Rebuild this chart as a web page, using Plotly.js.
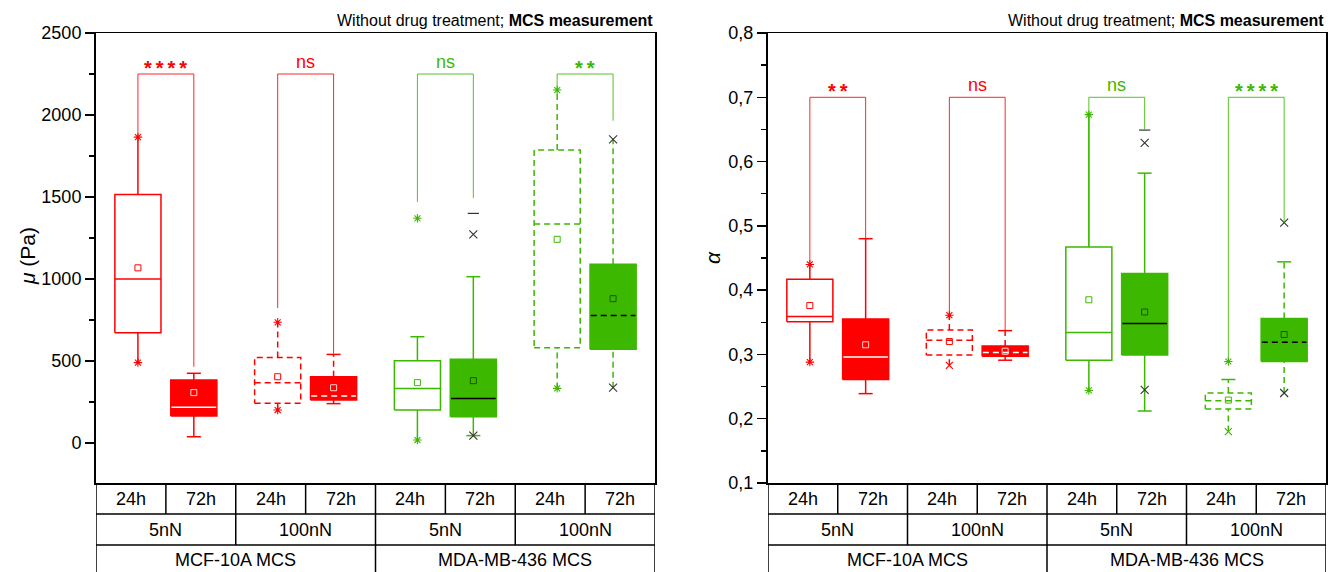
<!DOCTYPE html>
<html><head><meta charset="utf-8">
<script src="https://cdn.plot.ly/plotly-3.0.1.min.js"></script>
<style>body{margin:0;background:#fff}#plot{width:1330px;height:572px}</style>
</head><body><div id="plot"></div>
<script>
// ---------- data ----------
const timeLabels = ['24h','72h','24h','72h','24h','72h','24h','72h'];
const forceLabels = ['5nN','100nN','5nN','100nN'];
const cellLabels = ['MCF-10A MCS','MDA-MB-436 MCS'];

// mu (Pa)
const muQ1     = [672, 165, 242, 262, 201, 160, 581, 571];
const muMedian = [1000, 218, 368, 287, 333, 272, 1335, 778];
const muQ3     = [1515, 384, 522, 404, 502, 510, 1787, 1090];
const muMean   = [1068, 307, 404, 337, 368, 380, 1242, 880];
const muLow    = [490, 38, 201, 240, 18, 45, 333, 337];
const muHigh   = [1865, 425, 736, 540, 648, 1014, 2152, 1852];
const muExtraX = [4, 5, 5, 5];          // box index of extra points
const muExtraY = [1370, 1272, 1400, 45];
const muSigLevel = 2250;
const muSigLeft  = [1865, 823, 1470, 2152];
const muSigRight = [465, 545, 1493, 1965];
const muSigText  = ['****', 'ns', 'ns', '**'];

// alpha
const alQ1     = [0.351, 0.261, 0.299, 0.297, 0.291, 0.299, 0.215, 0.289];
const alMedian = [0.359, 0.296, 0.322, 0.303, 0.334, 0.348, 0.228, 0.319];
const alQ3     = [0.417, 0.355, 0.338, 0.313, 0.467, 0.426, 0.240, 0.356];
const alMean   = [0.376, 0.315, 0.320, 0.305, 0.385, 0.366, 0.229, 0.331];
const alLow    = [0.288, 0.239, 0.283, 0.291, 0.244, 0.212, 0.180, 0.240];
const alHigh   = [0.440, 0.480, 0.361, 0.337, 0.673, 0.582, 0.261, 0.444];
const alExtraX = [5, 5, 5, 6, 7];
const alExtraY = [0.629, 0.649, 0.245, 0.289, 0.505];
const alSigLevel = 0.70;
const alSigLeft  = [0.440, 0.361, 0.467, 0.289];
const alSigRight = [0.480, 0.337, 0.649, 0.505];
const alSigText  = ['**', 'ns', 'ns', '****'];

// ---------- styles ----------
const RED = '#ff0000', GREEN = '#3cb800', DARK = '#333333';
const boxColor = [RED,RED,RED,RED,GREEN,GREEN,GREEN,GREEN];
const boxFilled = [false,true,false,true,false,true,false,true];
const boxDashed = [false,false,true,true,false,false,true,true];
const medColor = ['fill','white','fill','white','fill','black','fill','black'];
const FONT = 'Liberation Sans, Arial, sans-serif';

const muEndHi = ['ast','cap','ast','cap','cap','cap','ast','xd'];
const muEndLo = ['ast','cap','ast','cap','ast','cap','ast','xd'];
const muExtraSym = ['ast','xd','capd','xd'];
const alEndHi = ['ast','cap','ast','cap','ast','cap','cap','cap'];
const alEndLo = ['ast','cap','xs','cap','ast','cap','xs','xd'];
const alExtraSym = ['xd','capd','xd','ast','xd'];

function pos(i){ return i + 0.5 + (i % 2 === 0 ? 0.1 : -0.1); }
const HW = 0.33;

function markerFor(kind, color){
  if (kind === 'ast') return {symbol:'asterisk-open', size:7, color:color, line:{color:color, width:1.1}};
  if (kind === 'cap') return {symbol:'line-ew-open', size:10, color:color, line:{color:color, width:1.5}};
  if (kind === 'capd') return {symbol:'line-ew-open', size:8, color:DARK, line:{color:DARK, width:1.2}};
  if (kind === 'xs') return {symbol:'x-thin-open', size:7, color:color, line:{color:color, width:1.1}};
  if (kind === 'xd') return {symbol:'x-thin-open', size:8, color:DARK, line:{color:DARK, width:1.1}};
}

function build(xa, ya, q1, med, q3, mean, lo, hi, endHi, endLo, exX, exY, exSym, sigLevel, sigL, sigR, sigT){
  const traces = [], ann = [];
  const base = {xaxis:xa, yaxis:ya, mode:'lines', hoverinfo:'skip', showlegend:false};
  for (let i = 0; i < q1.length; i++){
    const c = boxColor[i], p = pos(i), dash = boxDashed[i] ? '6px,4px' : 'solid';
    const l = p - HW, r = p + HW;
    traces.push(Object.assign({}, base, {x:[p,p], y:[q3[i], hi[i]], line:{color:c, width:1.5, dash:dash}}));
    traces.push(Object.assign({}, base, {x:[p,p], y:[lo[i], q1[i]], line:{color:c, width:1.5, dash:dash}}));
    const bx = {x:[l,r,r,l,l], y:[q1[i],q1[i],q3[i],q3[i],q1[i]], line:{color:c, width:1.5, dash:boxFilled[i] ? 'solid' : dash}};
    if (boxFilled[i]) { bx.fill = 'toself'; bx.fillcolor = c; }
    traces.push(Object.assign({}, base, bx));
    const mc = medColor[i] === 'fill' ? c : medColor[i];
    traces.push(Object.assign({}, base, {x:[l + (boxFilled[i]?0.01:0), r - (boxFilled[i]?0.01:0)], y:[med[i], med[i]], line:{color:mc, width:1.5, dash:dash}}));
    const meanC = boxFilled[i] ? (c === RED ? '#ffd0d0' : '#1a5a00') : c;
    traces.push(Object.assign({}, base, {mode:'markers', x:[p], y:[mean[i]], marker:{symbol:'square-open', size:6, color:meanC, line:{color:meanC, width:1}}}));
    traces.push(Object.assign({}, base, {mode:'markers', x:[p], y:[hi[i]], marker:markerFor(endHi[i], c)}));
    traces.push(Object.assign({}, base, {mode:'markers', x:[p], y:[lo[i]], marker:markerFor(endLo[i], c)}));
  }
  for (let k = 0; k < exX.length; k++){
    const i = exX[k];
    traces.push(Object.assign({}, base, {mode:'markers', x:[pos(i)], y:[exY[k]], marker:markerFor(exSym[k], boxColor[i])}));
  }
  for (let k = 0; k < sigT.length; k++){
    const a = pos(2*k), b = pos(2*k+1), c = boxColor[2*k];
    traces.push(Object.assign({}, base, {x:[a,a,b,b], y:[sigL[k], sigLevel, sigLevel, sigR[k]], line:{color:c, width:1}, opacity:0.85}));
    const star = sigT[k].indexOf('*') >= 0;
    ann.push({xref:xa, yref:ya, x:(a+b)/2, y:sigLevel,
      text: star ? '<b>' + sigT[k].split('').join('&#8201;') + '</b>' : sigT[k],
      showarrow:false, yanchor:'bottom', yshift: star ? -7 : 0, font:{family:FONT, size: star ? 20 : 18, color:c}});
  }
  return {traces, ann};
}

const L = build('x','y', muQ1, muMedian, muQ3, muMean, muLow, muHigh, muEndHi, muEndLo, muExtraX, muExtraY, muExtraSym, muSigLevel, muSigLeft, muSigRight, muSigText);
const R = build('x2','y2', alQ1, alMedian, alQ3, alMean, alLow, alHigh, alEndHi, alEndLo, alExtraX, alExtraY, alExtraSym, alSigLevel, alSigLeft, alSigRight, alSigText);

// ---------- layout ----------
const W = 1330, H = 572;
const yTop = 33, yBot = 483, row1 = 514, row2 = 545;
const py = v => 1 - v / H;
const domL = [96 / W, 655 / W], domR = [768 / W, 1326 / W];
const domY = [py(yBot), py(yTop)];

const shapes = [], annotations = [].concat(L.ann, R.ann);
function table(xa){
  const ln = {color:'black', width:1.5};
  [row1, row2].forEach(v => shapes.push({type:'line', xref:xa, yref:'paper', x0:0, x1:8, y0:py(v), y1:py(v), line:ln}));
  [0, 8].forEach(x => shapes.push({type:'line', xref:xa, yref:'paper', x0:x, x1:x, y0:py(yBot), y1:0, line:ln}));
  for (let j = 1; j < 8; j++){
    const bottom = (j % 4 === 0) ? 0 : (j % 2 === 0 ? py(row2) : py(row1));
    shapes.push({type:'line', xref:xa, yref:'paper', x0:j, x1:j, y0:py(yBot), y1:bottom, line:ln});
  }
  timeLabels.forEach((t, j) => annotations.push({xref:xa, yref:'paper', x:j + 0.5, y:py((yBot + row1) / 2), text:t, showarrow:false, yanchor:'middle', font:{family:FONT, size:18, color:'black'}}));
  forceLabels.forEach((t, j) => annotations.push({xref:xa, yref:'paper', x:2*j + 1, y:py((row1 + row2) / 2), text:t, showarrow:false, yanchor:'middle', font:{family:FONT, size:18, color:'black'}}));
  cellLabels.forEach((t, j) => annotations.push({xref:xa, yref:'paper', x:4*j + 2, y:py(560), text:t, showarrow:false, yanchor:'middle', font:{family:FONT, size:18, color:'black'}}));
}
table('x'); table('x2');

[655, 1326].forEach(xr => annotations.push({xref:'paper', yref:'paper', x:xr / W, y:py(21), xanchor:'right', yanchor:'middle', showarrow:false,
  text:'Without drug treatment; <b>MCS measurement</b>', font:{family:FONT, size:16, color:'black'}}));
annotations.push({xref:'paper', yref:'paper', x:28 / W, y:py(256), textangle:-90, showarrow:false, xanchor:'center', yanchor:'middle',
  text:'<i>μ</i> (Pa)', font:{family:FONT, size:21, color:'black'}});
annotations.push({xref:'paper', yref:'paper', x:712 / W, y:py(258), textangle:-90, showarrow:false, xanchor:'center', yanchor:'middle',
  text:'<i>α</i>', font:{family:FONT, size:21, color:'black'}});

const xBase = {range:[0, 8], showticklabels:false, ticks:'', showgrid:false, zeroline:false, showline:true, mirror:true, linecolor:'black', linewidth:1.5, fixedrange:true};
const yBase = {showgrid:false, zeroline:false, showline:true, mirror:true, linecolor:'black', linewidth:2,
  ticks:'outside', ticklen:9, tickwidth:1.5, tickcolor:'black', tickfont:{family:FONT, size:18, color:'black'},
  minor:{ticks:'outside', ticklen:5, tickwidth:1.5, tickcolor:'black'}, fixedrange:true};

const layout = {
  width:W, height:H, margin:{l:0, r:0, t:0, b:0}, paper_bgcolor:'white', plot_bgcolor:'white',
  separators:',.', showlegend:false,
  xaxis: Object.assign({}, xBase, {domain:domL, anchor:'y'}),
  yaxis: Object.assign({}, yBase, {domain:domY, anchor:'x', range:[-244, 2500], tickvals:[0,500,1000,1500,2000,2500], minor:Object.assign({}, yBase.minor, {dtick:250, tick0:0})}),
  xaxis2: Object.assign({}, xBase, {domain:domR, anchor:'y2'}),
  yaxis2: Object.assign({}, yBase, {domain:domY, anchor:'x2', range:[0.1, 0.8], dtick:0.1, tick0:0.1, tickformat:'.1f', minor:Object.assign({}, yBase.minor, {dtick:0.05, tick0:0.1})}),
  shapes:shapes, annotations:annotations
};

Plotly.newPlot('plot', [].concat(L.traces, R.traces), layout, {staticPlot:true});
</script></body></html>
